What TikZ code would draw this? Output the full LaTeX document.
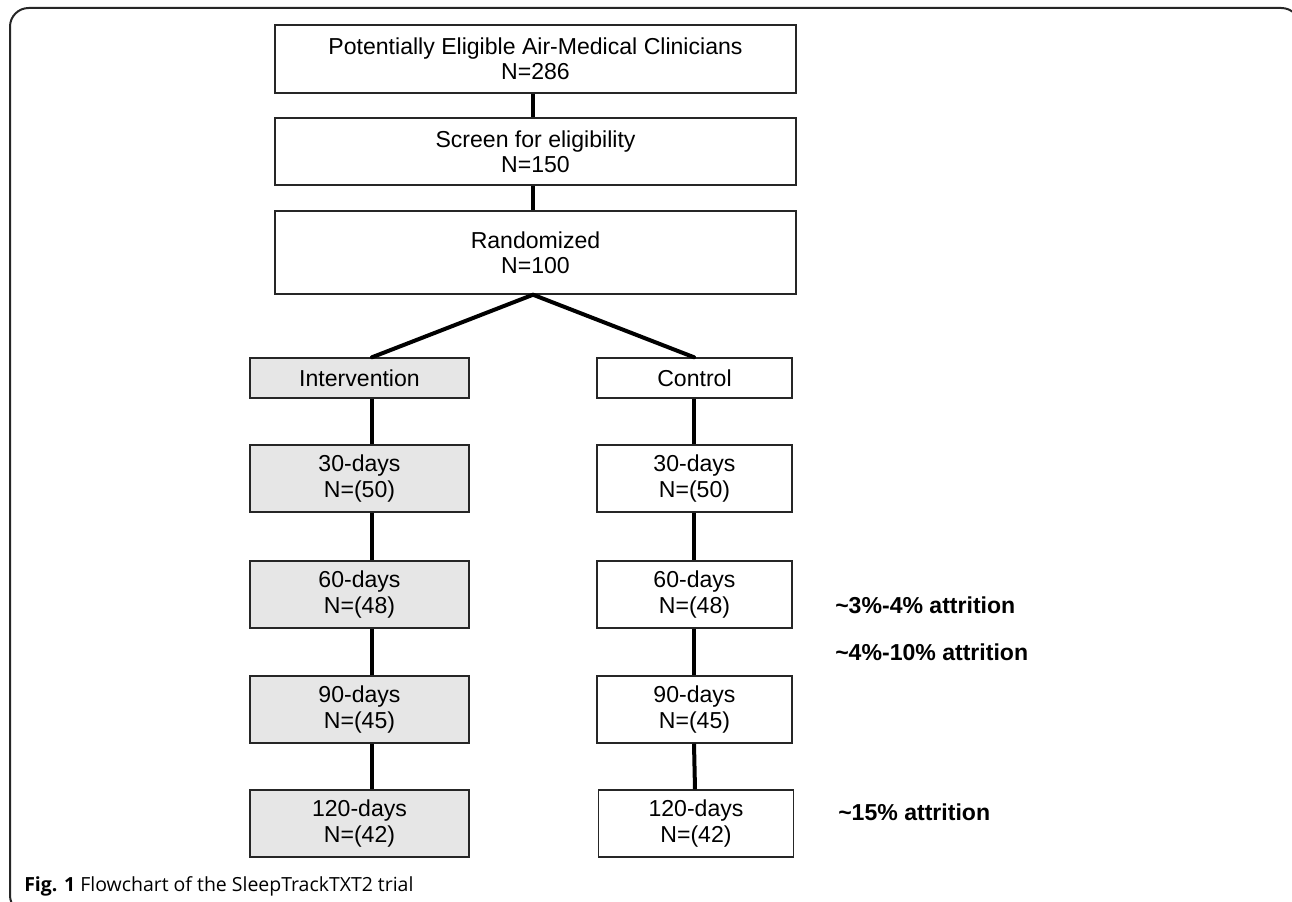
\documentclass[tikz,border=0pt]{standalone}
\usepackage{fontspec}
\setmainfont{Liberation Sans}
\newfontfamily\capfont{Open Sans}
\usetikzlibrary{calc}
\definecolor{boxgray}{RGB}{230,230,230}
\begin{document}
\begin{tikzpicture}[x=0.75pt,y=-0.75pt,
  stepbox/.style={draw=black!85,line width=1.1pt,fill=white,align=center,inner sep=0pt,
    font=\fontsize{17.3pt}{19pt}\selectfont},
  graybox/.style={stepbox,fill=boxgray},
  link/.style={line width=3pt,black},
  attr/.style={font=\fontsize{17.3pt}{19pt}\selectfont\bfseries,anchor=west,inner sep=0pt}]
\useasboundingbox (0,0) rectangle (1292,902);
\begin{scope}
\clip (0,0) rectangle (1292,902);
\draw[line width=1.5pt,black!85,rounded corners=14] (60,914) -- (10,914) -- (10,8) -- (1300,8) -- (1300,60);
\end{scope}
% top boxes
\node[stepbox,minimum width=521*0.75pt,minimum height=68*0.75pt] (pot) at (535.5,59) {Potentially Eligible Air-Medical Clinicians\\N=286};
\node[stepbox,minimum width=521*0.75pt,minimum height=67*0.75pt] (scr) at (535.5,151.5) {Screen for eligibility\\N=150};
\node[stepbox,minimum width=521*0.75pt,minimum height=83*0.75pt] (ran) at (535.5,252.5) {Randomized\\N=100};
\coordinate (lx) at (372,0);
\coordinate (rx) at (694,0);
\coordinate (ranb) at (533,294);
% arms
\node[graybox,minimum width=219*0.75pt,minimum height=40*0.75pt] (int) at (359.5,378) {Intervention};
\node[stepbox,minimum width=195*0.75pt,minimum height=40*0.75pt] (con) at (694.5,378) {Control};
% left
\node[graybox,minimum width=219*0.75pt,minimum height=67*0.75pt] (l30) at (359.5,478.5) {30-days\\N=(50)};
\node[graybox,minimum width=219*0.75pt,minimum height=67*0.75pt] (l60) at (359.5,594.5) {60-days\\N=(48)};
\node[graybox,minimum width=219*0.75pt,minimum height=67*0.75pt] (l90) at (359.5,709.5) {90-days\\N=(45)};
\node[graybox,minimum width=219*0.75pt,minimum height=67*0.75pt] (l120) at (359.5,823.5) {120-days\\N=(42)};
% right
\node[stepbox,minimum width=195*0.75pt,minimum height=67*0.75pt] (r30) at (694.5,478.5) {30-days\\N=(50)};
\node[stepbox,minimum width=195*0.75pt,minimum height=67*0.75pt] (r60) at (694.5,594.5) {60-days\\N=(48)};
\node[stepbox,minimum width=195*0.75pt,minimum height=67*0.75pt] (r90) at (694.5,709.5) {90-days\\N=(45)};
\node[stepbox,minimum width=195*0.75pt,minimum height=67*0.75pt] (r120) at (696,823.5) {120-days\\N=(42)};
% connectors
\draw[link] (pot.south -| ranb) -- (scr.north -| ranb);
\draw[link] (scr.south -| ranb) -- (ran.north -| ranb);
\draw[link,line cap=round] (ran.south -| ranb) -- (int.north -| lx);
\draw[link,line cap=round] (ran.south -| ranb) -- (con.north -| rx);
\draw[link] (int.south -| lx) -- (l30.north -| lx);
\draw[link] (l30.south -| lx) -- (l60.north -| lx);
\draw[link] (l60.south -| lx) -- (l90.north -| lx);
\draw[link] (l90.south -| lx) -- (l120.north -| lx);
\draw[link] (con.south -| rx) -- (r30.north -| rx);
\draw[link] (r30.south -| rx) -- (r60.north -| rx);
\draw[link] (r60.south -| rx) -- (r90.north -| rx);
\draw[link] (r90.south -| rx) -- ($(r120.north)+(-1,0)$);
% labels
\node[attr] (a1) at (835,605) {\textasciitilde 3\%-4\% attrition};
\node[attr] (a2) at (835,652) {\textasciitilde 4\%-10\% attrition};
\node[attr] (a3) at (838,812) {\textasciitilde 15\% attrition};
% caption
\node[anchor=base west,inner sep=0pt,font=\capfont\fontsize{14.6pt}{16pt}\selectfont] (cap) at (24,891) {\textbf{Fig. 1} Flowchart of the SleepTrackTXT2 trial};
\end{tikzpicture}
\end{document}
